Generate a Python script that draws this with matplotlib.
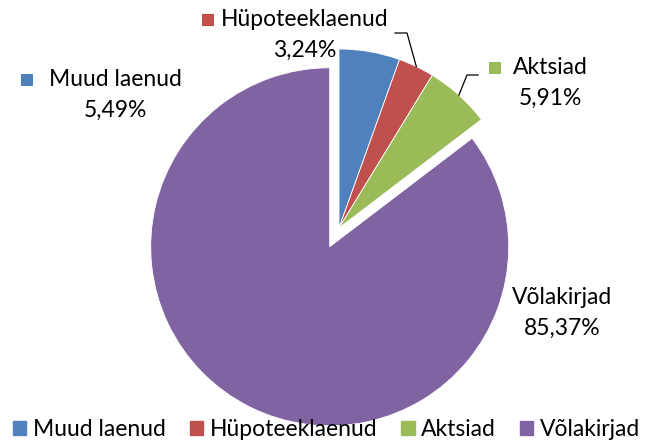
import matplotlib.pyplot as plt
import numpy as np
from matplotlib.patches import Rectangle

labels = ["Muud laenud", "Hüpoteeklaenud", "Aktsiad", "Võlakirjad"]
values = [5.49, 3.24, 5.91, 85.37]
pct_text = ["5,49%", "3,24%", "5,91%", "85,37%"]
colors = ["#4F81BD", "#C0504D", "#9BBB59", "#8064A2"]
explode = [0, 0, 0, 0.117]

plt.rcParams['font.family'] = ['Lato', 'DejaVu Sans']
FS = 16.5

W, H = 647, 442
cx, cy, R = 339, 228, 179  # pie centre and radius in pixels

fig = plt.figure(figsize=(W / 100, H / 100), dpi=100)
ax = fig.add_axes([0, 0, 1, 1])

wedges, _ = ax.pie(values, colors=colors, startangle=90, counterclock=False,
                   explode=explode, radius=1,
                   wedgeprops=dict(edgecolor='white', linewidth=0.6))
ax.set_xlim(-cx / R, (W - cx) / R)
ax.set_ylim(-(H - cy) / R, cy / R)
ax.set_aspect('auto')
ax.axis('off')


def px(x, y):
    return (x - cx) / R, (cy - y) / R


# data labels: (text centre x, line1 y, line2 y, key square x) in pixels
label_pos = [(115, 80, 110, 27), (305, 20, 50, 208), (550, 68, 98, 495), (562, 298, 328, None)]
sq = 12 / R
for i, (tx, y1, y2, kx) in enumerate(label_pos):
    ax.text(*px(tx, y1), labels[i], ha='center', va='center', fontsize=FS)
    ax.text(*px(tx, y2), pct_text[i], ha='center', va='center', fontsize=FS)
    if kx is not None:
        kx_d, ky_d = px(kx, y1)
        ax.add_patch(Rectangle((kx_d - sq / 2, ky_d - sq / 2), sq, sq,
                               color=colors[i], lw=0))

# leader lines for Hüpoteeklaenud and Aktsiad
for i, (start, elbow) in {1: ((395, 33), (407, 33)), 2: ((478, 75), (467, 75))}.items():
    w = wedges[i]
    mid = np.deg2rad((w.theta1 + w.theta2) / 2)
    ex, ey = np.cos(mid), np.sin(mid)
    xs = [px(*start)[0], px(*elbow)[0], ex]
    ys = [px(*start)[1], px(*elbow)[1], ey]
    ax.plot(xs, ys, color='black', lw=0.9)

handles = [Rectangle((0, 0), 1, 1, color=c) for c in colors]
fig.legend(handles, labels, loc='lower center', ncol=4, frameon=False,
           fontsize=FS, handlelength=0.57, handleheight=0.57, handletextpad=0.3,
           columnspacing=1.05, borderaxespad=0, borderpad=0,
           bbox_to_anchor=(0.505, 0.005))

fig.savefig('out.png', dpi=100)
